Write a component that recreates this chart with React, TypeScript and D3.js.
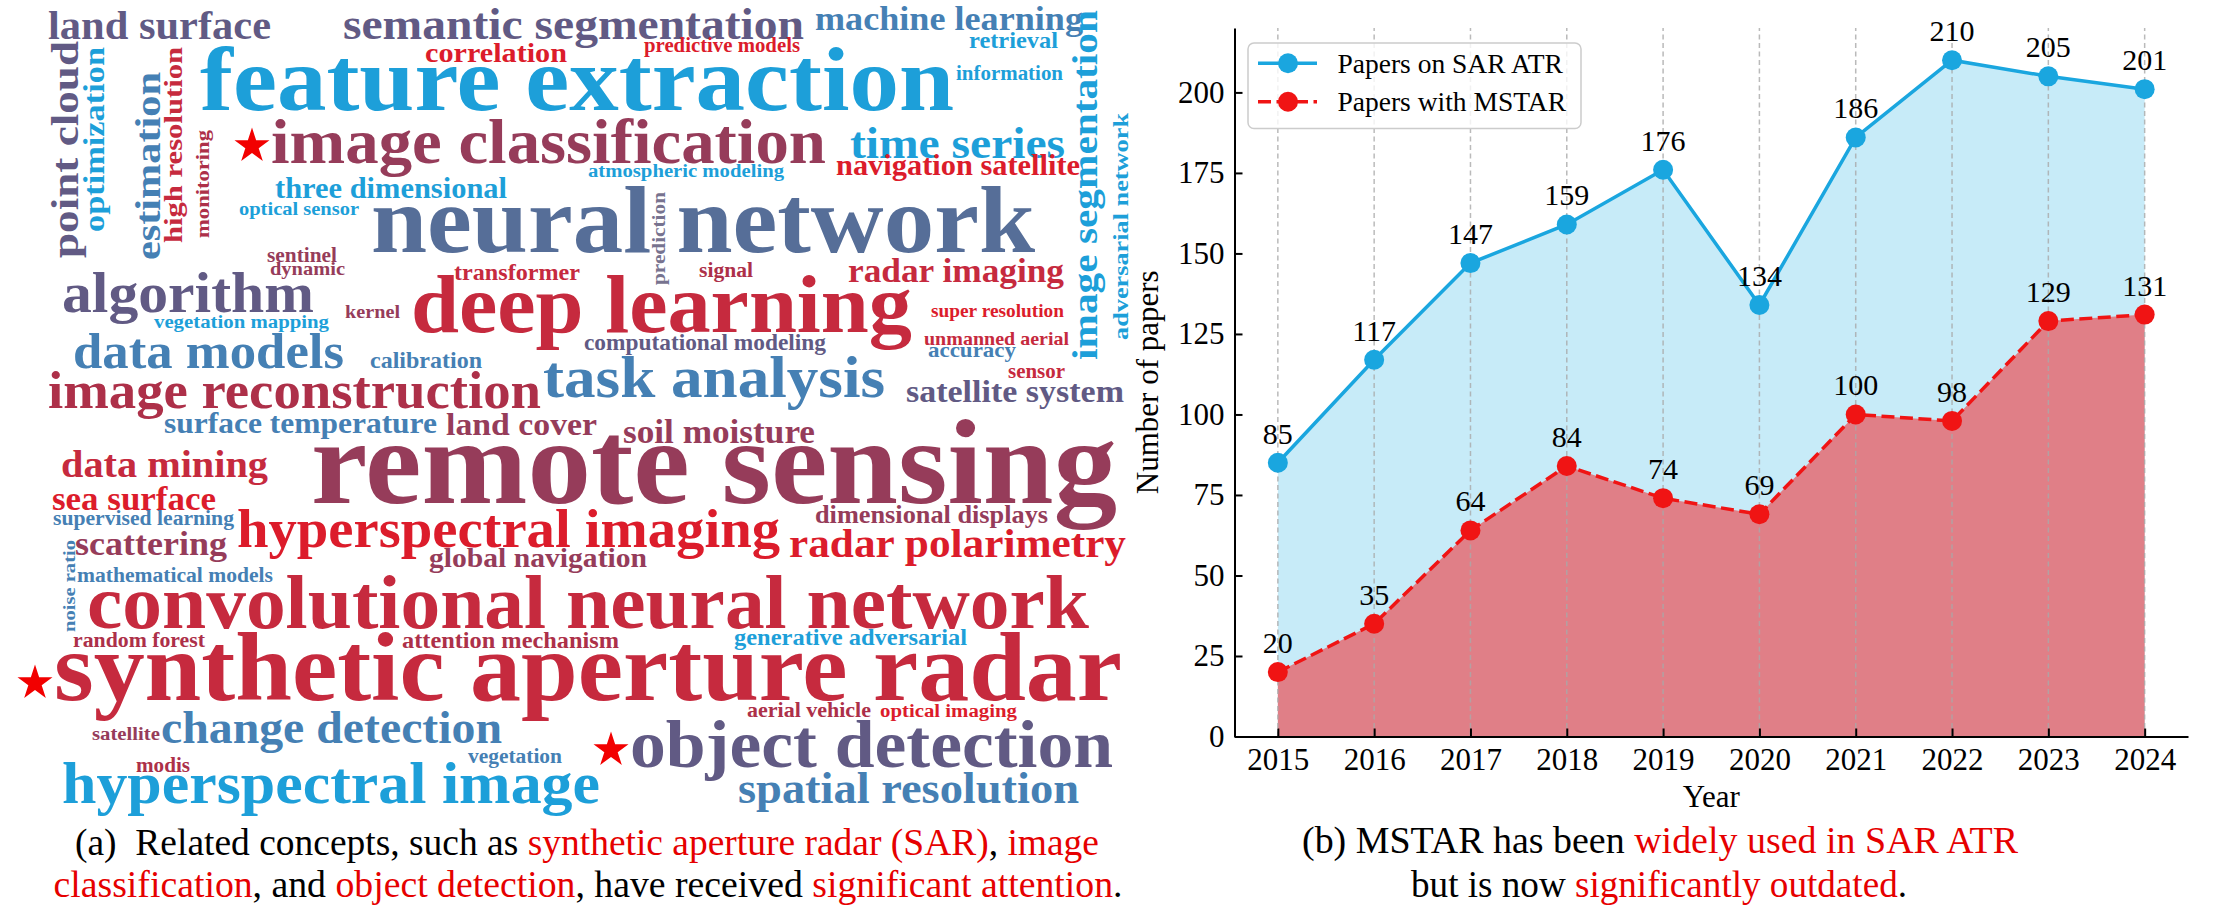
import { useEffect, useRef } from 'react';
import * as d3 from 'd3';

const years = [2015, 2016, 2017, 2018, 2019, 2020, 2021, 2022, 2023, 2024];
const sarAtrPapers = [85, 117, 147, 159, 176, 134, 186, 210, 205, 201];
const mstarPapers = [20, 35, 64, 84, 74, 69, 100, 98, 129, 131];
const seriesNames = ['Papers on SAR ATR', 'Papers with MSTAR'];
const yTicks = [0, 25, 50, 75, 100, 125, 150, 175, 200];

const cloudWords = [
  'land surface', 'semantic segmentation', 'machine learning', 'correlation', 'predictive models',
  'feature extraction', 'retrieval', 'information', 'image segmentation', 'adversarial network',
  'point cloud', 'optimization', 'estimation', 'high resolution', 'monitoring',
  'image classification', 'three dimensional', 'optical sensor', 'neural network', 'atmospheric modeling',
  'time series', 'navigation satellite', 'prediction', 'sentinel', 'dynamic',
  'transformer', 'signal', 'radar imaging', 'algorithm', 'kernel',
  'deep learning', 'vegetation mapping', 'super resolution', 'data models', 'calibration',
  'computational modeling', 'unmanned aerial', 'accuracy', 'task analysis', 'sensor',
  'satellite system', 'image reconstruction', 'surface temperature', 'land cover', 'soil moisture',
  'remote sensing', 'data mining', 'sea surface', 'supervised learning', 'hyperspectral imaging',
  'dimensional displays', 'radar polarimetry', 'global navigation', 'scattering', 'noise ratio',
  'mathematical models', 'convolutional neural network', 'random forest', 'attention mechanism', 'generative adversarial',
  'synthetic aperture radar', 'aerial vehicle', 'optical imaging', 'satellite', 'change detection',
  'vegetation', 'object detection', 'modis', 'hyperspectral image', 'spatial resolution',
];
// relative frequency of each keyword (drives the font size)
const cloudWeights = [
  40, 45, 34, 28, 20,
  92, 23, 20, 35, 22,
  38, 29, 36, 26, 19,
  63, 29, 19.5, 95, 19.7,
  45, 29, 18, 20, 19.5,
  23, 20, 33.5, 57, 19.3,
  82, 19.8, 18.3, 50, 23,
  22.3, 19, 21.8, 60, 20,
  32.4, 52, 30, 32, 33.4,
  121, 38.4, 33.3, 20.7, 54,
  25, 41, 28.3, 34.3, 17.5,
  20.6, 75.6, 20.7, 23.2, 23.3,
  97, 21, 19.8, 19.7, 45.5,
  20, 68, 20, 59, 44,
];
const starredWords = ['image classification', 'synthetic aperture radar', 'object detection'];

// layout of the reference cloud: [x, y, span, vertical, tone]
const cloudLayout: [number, number, number, number, string][] = [
  [48, 39, 223, 0, 'slate'], [343, 39, 461, 0, 'slate'], [815, 30, 268, 0, 'steel'], [425, 62, 142, 0, 'red'], [644, 52, 156, 0, 'red'],
  [200, 110, 754, 0, 'sky'], [969, 48, 89, 0, 'sky'], [956, 80, 107, 0, 'sky'], [1097, 360, 350, 1, 'sky'], [1128, 340, 227, 1, 'sky'],
  [78, 258, 217, 1, 'slate'], [104, 232, 185, 1, 'sky'], [160, 260, 188, 1, 'steel'], [182, 243, 196, 1, 'crimson'], [209, 238, 108, 1, 'rose'],
  [271, 163, 555, 0, 'plum'], [275, 198, 232, 0, 'sky'], [239, 215, 120, 0, 'sky'], [371, 252, 664, 0, 'navy'], [588, 177, 196, 0, 'sky'],
  [850, 158, 215, 0, 'sky'], [836, 175, 244, 0, 'red'], [665, 285, 93, 1, 'gray'], [267, 262, 70, 0, 'plum'], [270, 275, 75, 0, 'plum'],
  [454, 280, 126, 0, 'crimson'], [699, 277, 54, 0, 'rose'], [848, 282, 216, 0, 'crimson'], [62, 312, 252, 0, 'slate'], [345, 318, 55, 0, 'plum'],
  [411, 332, 501, 0, 'crimson'], [154, 328, 175, 0, 'sky'], [931, 317, 133, 0, 'red'], [73, 368, 271, 0, 'steel'], [370, 368, 112, 0, 'steel'],
  [584, 350, 242, 0, 'slate'], [924, 345, 145, 0, 'crimson'], [928, 357, 88, 0, 'steel'], [543, 397, 342, 0, 'steel'], [1008, 378, 57, 0, 'crimson'],
  [906, 402, 218, 0, 'slate'], [48, 408, 493, 0, 'rose'], [164, 433, 273, 0, 'steel'], [446, 435, 151, 0, 'plum'], [623, 443, 192, 0, 'plum'],
  [311, 503, 806, 0, 'plum'], [61, 477, 207, 0, 'crimson'], [52, 510, 164, 0, 'red'], [53, 525, 181, 0, 'steel'], [237, 547, 543, 0, 'red'],
  [815, 523, 233, 0, 'plum'], [789, 557, 337, 0, 'red'], [429, 567, 218, 0, 'plum'], [75, 555, 152, 0, 'plum'], [75, 632, 92, 1, 'steel'],
  [77, 582, 196, 0, 'steel'], [87, 628, 1002, 0, 'crimson'], [73, 647, 132, 0, 'rose'], [402, 648, 217, 0, 'rose'], [734, 645, 233, 0, 'sky'],
  [54, 700, 1068, 0, 'crimson'], [747, 717, 124, 0, 'rose'], [880, 717, 137, 0, 'red'], [92, 740, 68, 0, 'plum'], [161, 743, 341, 0, 'steel'],
  [468, 763, 94, 0, 'steel'], [630, 767, 483, 0, 'slate'], [136, 772, 54, 0, 'rose'], [62, 803, 538, 0, 'sky'], [738, 803, 341, 0, 'steel'],
];

const cloudPalette: Record<string, string> = {
  sky: '#1d9fd9',
  steel: '#4580b4',
  slate: '#615a84',
  navy: '#566e98',
  plum: '#963c5a',
  rose: '#ad3049',
  crimson: '#c62a3e',
  red: '#dc1c2b',
  gray: '#77738f',
};

const SERIF = "'Liberation Serif', 'Times New Roman', serif";
const CAPTION_RED = '#e60000';

export default function App() {
  const ref = useRef<SVGSVGElement>(null);

  useEffect(() => {
    if (!ref.current) return;
    const svg = d3.select(ref.current);
    svg.selectAll('*').remove();
    svg.append('rect').attr('width', 2220).attr('height', 909).attr('fill', '#fff');

    // ---- word cloud (a) ----
    const sizeScale = d3.scaleLinear().domain([0, 121]).range([0, 121]);
    const cloud = svg.append('g').attr('font-family', SERIF).attr('font-weight', 700);
    cloudWords.forEach((word, i) => {
      const [px, py, span, vertical, tone] = cloudLayout[i];
      const t = cloud
        .append('text')
        .attr('font-size', sizeScale(cloudWeights[i]))
        .attr('fill', cloudPalette[tone])
        .attr('textLength', span)
        .attr('lengthAdjust', 'spacingAndGlyphs')
        .text(word);
      if (vertical) t.attr('transform', `translate(${px},${py}) rotate(-90)`);
      else t.attr('x', px).attr('y', py);
    });
    const star = d3.symbol().type(d3.symbolStar).size(380);
    starredWords.forEach((w) => {
      const [px, py] = cloudLayout[cloudWords.indexOf(w)];
      cloud
        .append('path')
        .attr('d', star()!)
        .attr('transform', `translate(${px - 19},${py - 17})`)
        .attr('fill', '#f20000');
    });

    // ---- line chart (b) ----
    const x = d3.scaleLinear().domain([2014.55, 2024.45]).range([1234.5, 2188]);
    const y = d3.scaleLinear().domain([0, 220]).range([736.5, 28]);
    const rows = years.map((yr, i) => ({ yr, a: sarAtrPapers[i], m: mstarPapers[i] }));
    const g = svg.append('g');

    const areaA = d3.area<(typeof rows)[0]>().x((d) => x(d.yr)).y0(y(0)).y1((d) => y(d.a));
    const areaM = d3.area<(typeof rows)[0]>().x((d) => x(d.yr)).y0(y(0)).y1((d) => y(d.m));
    g.append('path').datum(rows).attr('fill', '#c7ebf8').attr('d', areaA);
    g.append('path').datum(rows).attr('fill', '#e07f87').attr('d', areaM);

    g.selectAll('line.grid')
      .data(years)
      .join('line')
      .attr('class', 'grid')
      .attr('x1', (d) => x(d))
      .attr('x2', (d) => x(d))
      .attr('y1', y(0))
      .attr('y2', y(220))
      .attr('stroke', '#a9a9a9')
      .attr('stroke-opacity', 0.8)
      .attr('stroke-width', 1.5)
      .attr('stroke-dasharray', '5,3.5');

    const lineA = d3.line<(typeof rows)[0]>().x((d) => x(d.yr)).y((d) => y(d.a));
    const lineM = d3.line<(typeof rows)[0]>().x((d) => x(d.yr)).y((d) => y(d.m));
    g.append('path').datum(rows).attr('fill', 'none').attr('stroke', '#1aa6df').attr('stroke-width', 3.5).attr('d', lineA);
    g.append('path')
      .datum(rows)
      .attr('fill', 'none')
      .attr('stroke', '#f01414')
      .attr('stroke-width', 3.5)
      .attr('stroke-dasharray', '13,5.5')
      .attr('d', lineM);

    g.selectAll('circle.a')
      .data(rows)
      .join('circle')
      .attr('class', 'a')
      .attr('cx', (d) => x(d.yr))
      .attr('cy', (d) => y(d.a))
      .attr('r', 10)
      .attr('fill', '#1aa6df');
    g.selectAll('circle.m')
      .data(rows)
      .join('circle')
      .attr('class', 'm')
      .attr('cx', (d) => x(d.yr))
      .attr('cy', (d) => y(d.m))
      .attr('r', 10)
      .attr('fill', '#f01414');

    const labels = g.append('g').attr('font-family', SERIF).attr('font-size', 30).attr('text-anchor', 'middle');
    rows.forEach((d) => {
      labels.append('text').attr('x', x(d.yr)).attr('y', y(d.a) - 19).text(d.a);
      labels.append('text').attr('x', x(d.yr)).attr('y', y(d.m) - 19).text(d.m);
    });

    const yAxis = d3.axisLeft(y).tickValues(yTicks).tickSizeInner(-8).tickSizeOuter(0).tickPadding(10);
    const xAxis = d3
      .axisBottom(x)
      .tickValues(years)
      .tickFormat(d3.format('d'))
      .tickSizeInner(-8)
      .tickSizeOuter(0)
      .tickPadding(11);
    const ya = g.append('g').attr('transform', `translate(${x.range()[0]},0)`).call(yAxis);
    const xa = g.append('g').attr('transform', `translate(0,${y(0)})`).call(xAxis);
    [ya, xa].forEach((ax) => {
      ax.attr('font-size', 31).attr('font-family', SERIF);
      ax.selectAll('path, line').attr('stroke', '#000').attr('stroke-width', 2);
      ax.selectAll('text').attr('fill', '#000');
    });

    g.append('text')
      .attr('transform', `translate(1158,${(y(0) + y(220)) / 2}) rotate(-90)`)
      .attr('text-anchor', 'middle')
      .attr('font-family', SERIF)
      .attr('font-size', 31)
      .text('Number of papers');
    g.append('text')
      .attr('x', (x.range()[0] + x.range()[1]) / 2)
      .attr('y', 806.5)
      .attr('text-anchor', 'middle')
      .attr('font-family', SERIF)
      .attr('font-size', 31)
      .text('Year');

    const legend = g.append('g');
    legend
      .append('rect')
      .attr('x', 1248)
      .attr('y', 43)
      .attr('width', 333)
      .attr('height', 85.5)
      .attr('rx', 6)
      .attr('fill', '#fff')
      .attr('fill-opacity', 0.8)
      .attr('stroke', '#cccccc')
      .attr('stroke-width', 1.5);
    [
      [seriesNames[0], '#1aa6df', null],
      [seriesNames[1], '#f01414', '13,5.5'],
    ].forEach(([label, color, dash], i) => {
      const row = legend.append('g').attr('transform', `translate(1258,${63.3 + i * 38.5})`);
      row
        .append('line')
        .attr('x1', 0)
        .attr('x2', 59)
        .attr('stroke', color as string)
        .attr('stroke-width', 3.5)
        .attr('stroke-dasharray', dash as string | null);
      row.append('circle').attr('cx', 30).attr('r', 10).attr('fill', color as string);
      row
        .append('text')
        .attr('x', 79.5)
        .attr('y', 9.5)
        .attr('font-family', SERIF)
        .attr('font-size', 27.5)
        .text(label as string);
    });

    // ---- captions ----
    const captions: [number, number, number, [string, boolean][]][] = [
      [587, 855, 1024, [['(a)  Related concepts, such as ', false], ['synthetic aperture radar (SAR)', true], [', ', false], ['image', true]]],
      [588, 897, 1069, [['classification', true], [', and ', false], ['object detection', true], [', have received ', false], ['significant attention', true], ['.', false]]],
      [1660, 853, 716, [['(b) MSTAR has been ', false], ['widely used in SAR ATR', true]]],
      [1659, 897, 496, [['but is now ', false], ['significantly outdated', true], ['.', false]]],
    ];
    captions.forEach(([cx, cy, len, parts]) => {
      const t = svg
        .append('text')
        .attr('x', cx)
        .attr('y', cy)
        .attr('text-anchor', 'middle')
        .attr('font-family', SERIF)
        .attr('font-size', 37.5)
        .attr('textLength', len)
        .attr('lengthAdjust', 'spacingAndGlyphs')
        .style('white-space', 'pre');
      parts.forEach(([s, red]) => {
        t.append('tspan').attr('fill', red ? CAPTION_RED : '#000').text(s);
      });
    });
  }, []);

  return (
    <svg
      ref={ref}
      width={2220}
      height={909}
      style={{ position: 'absolute', left: 0, top: 0, display: 'block' }}
    />
  );
}
